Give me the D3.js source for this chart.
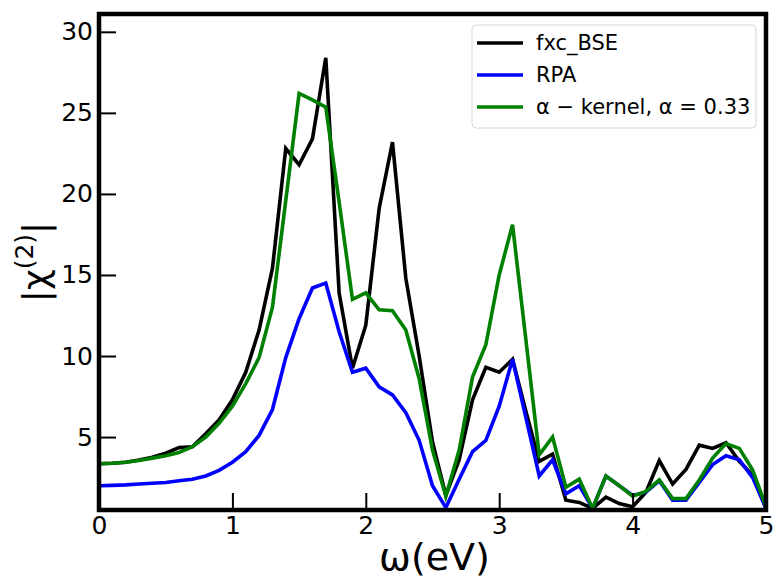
<!DOCTYPE html>
<html>
<head>
<meta charset="utf-8">
<script src="https://cdn.jsdelivr.net/npm/d3@7"></script>
<style>
  html, body { margin: 0; padding: 0; background: #fff; }
  svg { display: block; font-family: "DejaVu Sans", sans-serif; }
</style>
</head>
<body>
<svg id="chart" width="773" height="581"></svg>
<script>
const omega = [0.0,0.1,0.2,0.3,0.4,0.5,0.6,0.7,0.8,0.9,
  1.0,1.1,1.2,1.3,1.4,1.5,1.6,1.7,1.8,1.9,
  2.0,2.1,2.2,2.3,2.4,2.5,2.6,2.7,2.8,2.9,
  3.0,3.1,3.2,3.3,3.4,3.5,3.6,3.7,3.8,3.9,
  4.0,4.1,4.2,4.3,4.4,4.5,4.6,4.7,4.8,4.9,5.0];

const fxcBSE = [3.35,3.38,3.45,3.58,3.75,4.0,4.35,4.4,5.2,6.05,
  7.3,9.0,11.6,15.4,22.8,21.8,23.4,28.4,13.9,9.25,
  11.9,19.1,23.2,14.8,10.0,4.7,1.4,3.6,7.3,9.3,
  9.0,9.8,6.6,3.5,3.95,1.1,0.97,0.6,1.3,0.9,
  0.7,1.6,3.55,2.1,3.0,4.5,4.3,4.65,3.5,2.65,0.6];

const rpa = [2.0,2.02,2.05,2.1,2.15,2.2,2.3,2.4,2.6,2.95,
  3.45,4.1,5.1,6.7,9.9,12.3,14.2,14.5,11.5,9.0,
  9.25,8.1,7.6,6.5,4.8,2.0,0.65,2.4,4.1,4.8,
  6.9,9.8,6.2,2.6,3.6,1.5,2.0,0.6,2.6,2.0,
  1.4,1.6,2.3,1.1,1.1,2.2,3.3,3.85,3.6,2.5,0.6];

const alphaKernel = [3.35,3.38,3.45,3.55,3.7,3.85,4.05,4.4,5.0,5.85,
  6.9,8.3,9.9,13.0,19.6,26.2,25.8,25.35,19.5,13.5,
  13.9,12.85,12.8,11.6,8.6,4.2,1.35,4.2,8.7,10.7,
  15.0,18.1,11.0,3.9,5.0,1.9,2.4,0.6,2.6,2.0,
  1.35,1.65,2.35,1.2,1.2,2.35,3.7,4.6,4.3,2.96,0.7];

const seriesNames = ["fxc_BSE", "RPA", "\u03b1 \u2212 kernel, \u03b1 = 0.33"];
const seriesColors = ["#000000", "#0000ff", "#008000"];
const xTicks = [0,1,2,3,4,5];
const yTicks = [5,10,15,20,25,30];

const svg = d3.select("#chart");
const L = 99, R = 766, T = 14, B = 510;

const x = d3.scaleLinear().domain([0, 5]).range([L, R]);
const y = d3.scaleLinear().domain([0.5, 31.1]).range([B, T]);

svg.append("defs").append("clipPath").attr("id", "clip")
  .append("rect").attr("x", L).attr("y", T).attr("width", R - L).attr("height", B - T);

const allSeries = [fxcBSE, rpa, alphaKernel];
const line = d3.line().x((d, i) => x(omega[i])).y(d => y(d));

const g = svg.append("g").attr("clip-path", "url(#clip)");
allSeries.forEach((s, k) => {
  g.append("path").datum(s)
    .attr("d", line)
    .attr("fill", "none")
    .attr("stroke", seriesColors[k])
    .attr("stroke-width", 3.6)
    .attr("stroke-linejoin", "miter")
    .attr("stroke-linecap", "butt");
});

// Axes
const xAxis = d3.axisBottom(x).tickValues(xTicks).tickFormat(d3.format("d"))
  .tickSizeInner(-17).tickSizeOuter(0).tickPadding(24);
const gx = svg.append("g").attr("transform", `translate(0,${B})`).call(xAxis);
gx.select(".domain").remove();
gx.selectAll(".tick line").attr("stroke", "#000").attr("stroke-width", 2);
gx.selectAll(".tick text").attr("font-size", 25).attr("fill", "#000")
  .attr("font-family", "DejaVu Sans").attr("dy", "0.0em");

const yAxis = d3.axisLeft(y).tickValues(yTicks).tickFormat(d3.format("d"))
  .tickSizeInner(-17).tickSizeOuter(0).tickPadding(24);
const gy = svg.append("g").attr("transform", `translate(${L},0)`).call(yAxis);
gy.select(".domain").remove();
gy.selectAll(".tick line").attr("stroke", "#000").attr("stroke-width", 2);
gy.selectAll(".tick text").attr("font-size", 25).attr("fill", "#000")
  .attr("font-family", "DejaVu Sans").attr("x", -6);

// Frame
svg.append("rect").attr("x", L).attr("y", T).attr("width", R - L).attr("height", B - T)
  .attr("fill", "none").attr("stroke", "#000").attr("stroke-width", 4.5);

// Axis labels
svg.append("text").attr("x", (L + R) / 2 + 2).attr("y", 570)
  .attr("text-anchor", "middle").attr("font-size", 38).attr("fill", "#000")
  .text("\u03c9(eV)");

const yl = svg.append("text")
  .attr("transform", `translate(48,${(T + B) / 2}) rotate(-90)`)
  .attr("text-anchor", "middle").attr("font-size", 36).attr("fill", "#000");
yl.append("tspan").text("|\u03c7");
yl.append("tspan").attr("font-size", 25).attr("dy", -15).text("(2)");
yl.append("tspan").attr("dy", 15).text("|");

// Legend
const lg = svg.append("g");
lg.append("rect").attr("x", 472).attr("y", 25).attr("width", 284).attr("height", 103)
  .attr("rx", 4).attr("fill", "#fff").attr("stroke", "#d8d8d8").attr("stroke-width", 1);
const rowY = [43, 75, 107];
seriesNames.forEach((n, k) => {
  lg.append("line").attr("x1", 477).attr("x2", 523).attr("y1", rowY[k]).attr("y2", rowY[k])
    .attr("stroke", seriesColors[k]).attr("stroke-width", 3.6);
  lg.append("text").attr("x", 536).attr("y", rowY[k] + 7).attr("font-size", 21)
    .attr("fill", "#000").text(n);
});
</script>
</body>
</html>
